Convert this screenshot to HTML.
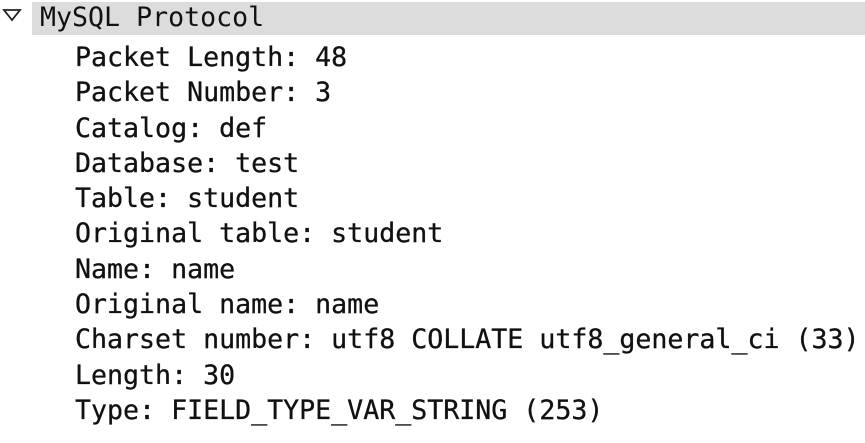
<!DOCTYPE html>
<html><head><style>
body{margin:0;width:865px;height:443px;background:#fff;overflow:hidden;font-family:"DejaVu Sans Mono","Liberation Mono",monospace;font-size:26.6px;color:#111;}
.hdr{position:absolute;left:32px;top:2px;width:833px;height:33px;background:#dcdcdc;}
.ht{position:absolute;left:40px;top:0px;line-height:36px;white-space:pre;}
.items{position:absolute;left:75px;top:40px;line-height:35.3px;white-space:pre;-webkit-text-stroke:0.3px #111;}
svg{position:absolute;left:0;top:0}
</style></head><body>
<div class="hdr"></div>
<svg width="30" height="36"><polygon points="4,10 20,10 12,20" fill="none" stroke="#222" stroke-width="1.8"/></svg>
<div class="ht">MySQL Protocol</div>
<div class="items">Packet Length: 48
Packet Number: 3
Catalog: def
Database: test
Table: student
Original table: student
Name: name
Original name: name
Charset number: utf8 COLLATE utf8_general_ci (33)
Length: 30
Type: FIELD_TYPE_VAR_STRING (253)</div>
</body></html>
